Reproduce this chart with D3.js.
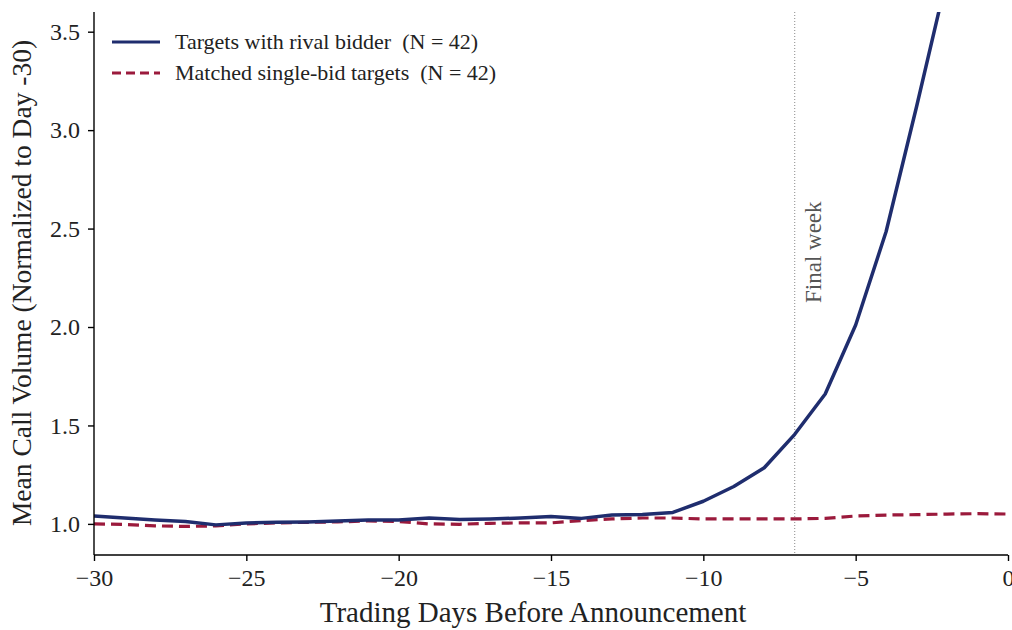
<!DOCTYPE html>
<html>
<head>
<meta charset="utf-8">
<script src="https://cdn.jsdelivr.net/npm/d3@7"></script>
<style>
  body { margin: 0; background: #fff; }
  svg { font-family: "Liberation Serif", "DejaVu Serif", serif; }
  .axis path, .axis line { stroke: #000; stroke-width: 1.4; }
  .axis text { font-family: "Liberation Serif", "DejaVu Serif", serif; font-size: 24px; fill: #222; }
</style>
</head>
<body>
<div id="chart"></div>
<script>
var width = 1012, height = 630;
var margin = {top: 12, right: 4, bottom: 75, left: 94};

// trading days relative to announcement
var days = d3.range(-30, -1);
var daysMatched = d3.range(-30, 1);

var rivalValues = [1.04, 1.03, 1.02, 1.012, 0.995, 1.005, 1.008, 1.01, 1.015, 1.02,
                   1.02, 1.03, 1.022, 1.025, 1.03, 1.038, 1.028, 1.045, 1.048, 1.058,
                   1.115, 1.19, 1.285, 1.455, 1.66, 2.01, 2.485, 3.12, 3.78];
var matchedValues = [1.0, 0.997, 0.99, 0.987, 0.99, 1.0, 1.005, 1.008, 1.01, 1.015,
                     1.012, 1.0, 0.998, 1.003, 1.005, 1.005, 1.017, 1.025, 1.03, 1.03,
                     1.025, 1.025, 1.025, 1.025, 1.028, 1.04, 1.045, 1.047, 1.05, 1.052, 1.05];

var xTicks = [-30, -25, -20, -15, -10, -5, 0];
var yTicks = [1.0, 1.5, 2.0, 2.5, 3.0, 3.5];
var seriesNames = ["Targets with rival bidder  (N = 42)", "Matched single-bid targets  (N = 42)"];
var finalWeekDay = -7;

var innerW = width - margin.left - margin.right;
var innerH = height - margin.top - margin.bottom;

var svg = d3.select("#chart").append("svg")
    .attr("width", width)
    .attr("height", height);

var g = svg.append("g")
    .attr("transform", "translate(" + margin.left + "," + margin.top + ")");

var x = d3.scaleLinear().domain([-30, 0]).range([0, 914]);
var y = d3.scaleLinear().domain([0.842, 3.6]).range([innerH, 0]);

g.append("clipPath").attr("id", "clip")
  .append("rect").attr("x", 0).attr("y", 0).attr("width", innerW).attr("height", innerH);

// final week marker
g.append("line")
    .attr("x1", x(finalWeekDay)).attr("x2", x(finalWeekDay))
    .attr("y1", 0).attr("y2", innerH)
    .attr("stroke", "#8a8a8a")
    .attr("stroke-width", 1)
    .attr("stroke-dasharray", "1,2");

g.append("text")
    .attr("transform", "translate(" + (x(finalWeekDay) + 26) + "," + y(2.38) + ") rotate(-90)")
    .attr("text-anchor", "middle")
    .style("font-size", "23px")
    .style("fill", "#555")
    .text("Final week");

var line = d3.line()
    .x(function(d) { return x(d.day); })
    .y(function(d) { return y(d.value); });

var rivalData = days.map(function(d, i) { return {day: d, value: rivalValues[i]}; });
var matchedData = daysMatched.map(function(d, i) { return {day: d, value: matchedValues[i]}; });

var lines = g.append("g").attr("clip-path", "url(#clip)");

lines.append("path")
    .datum(matchedData)
    .attr("fill", "none")
    .attr("stroke", "#9b1a3c")
    .attr("stroke-width", 3.2)
    .attr("stroke-dasharray", "11,6")
    .attr("d", line);

lines.append("path")
    .datum(rivalData)
    .attr("fill", "none")
    .attr("stroke", "#1f2d6e")
    .attr("stroke-width", 3.5)
    .attr("stroke-linejoin", "round")
    .attr("d", line);

// axes
g.append("g")
    .attr("class", "x axis")
    .attr("transform", "translate(0," + innerH + ")")
    .call(d3.axisBottom(x).tickValues(xTicks).tickSize(6).tickPadding(9)
          .tickFormat(function(d) { return d < 0 ? "\u2212" + Math.abs(d) : d; }));

g.selectAll(".x.axis text").attr("dy", "0.65em");

g.append("g")
    .attr("class", "y axis")
    .call(d3.axisLeft(y).tickValues(yTicks).tickSize(6).tickPadding(8).tickFormat(d3.format(".1f")));

g.selectAll(".axis .domain").attr("d", function() {
  return d3.select(this.parentNode).classed("x") ? "M0,0H" + innerW : "M0,0V" + innerH;
});

// axis titles
svg.append("text")
    .attr("x", 533)
    .attr("y", 622)
    .attr("text-anchor", "middle")
    .style("font-size", "29px")
    .style("fill", "#222")
    .text("Trading Days Before Announcement");

svg.append("text")
    .attr("transform", "translate(31,283) rotate(-90)")
    .attr("text-anchor", "middle")
    .style("font-size", "27.5px")
    .style("fill", "#222")
    .text("Mean Call Volume (Normalized to Day -30)");

// legend
var legend = g.append("g").attr("transform", "translate(18,30)");
var legendStyles = [
  {color: "#1f2d6e", dash: null},
  {color: "#9b1a3c", dash: "9,5"}
];
legendStyles.forEach(function(s, i) {
  var row = legend.append("g").attr("transform", "translate(0," + (i * 31) + ")");
  row.append("line")
      .attr("x1", 0).attr("x2", 48)
      .attr("stroke", s.color)
      .attr("stroke-width", 3.2)
      .attr("stroke-dasharray", s.dash);
  row.append("text")
      .attr("x", 63).attr("y", 7)
      .attr("xml:space", "preserve")
      .style("white-space", "pre")
      .style("font-size", "22px")
      .style("fill", "#222")
      .text(seriesNames[i]);
});
</script>
</body>
</html>
